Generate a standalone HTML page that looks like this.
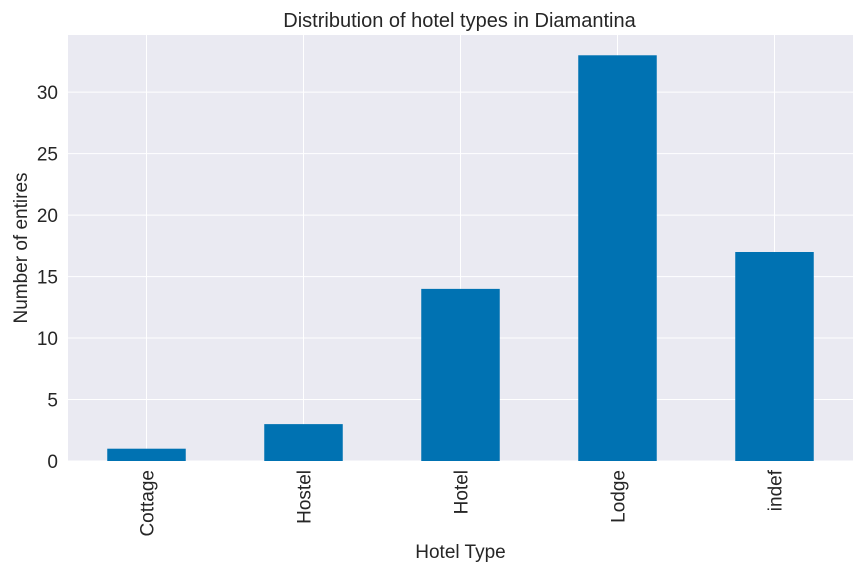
<!DOCTYPE html>
<html><head><meta charset="utf-8"><style>
body{margin:0;background:#fff;}
svg{display:block;font-family:"Liberation Sans","DejaVu Sans",sans-serif;}
</style></head><body>
<svg id="chart" width="864" height="576"></svg>
<script>
const categories=["Cottage","Hostel","Hotel","Lodge","indef"];
const counts=[1,3,14,33,17];
const yTicks=[0,5,10,15,20,25,30];
const L=68,R=853,T=35,B=461,yMax=34.65;
const ns="http://www.w3.org/2000/svg";
const svg=document.getElementById('chart');
function y(v){return B-(v/yMax)*(B-T);}
const step=(R-L)/categories.length;
function xc(i){return L+step*(i+0.5);}
function mk(tag,attrs,parent){const e=document.createElementNS(ns,tag);for(const k in attrs)e.setAttribute(k,attrs[k]);(parent||svg).appendChild(e);return e;}
const bg=mk('rect',{x:L,y:T,width:R-L,height:B-T,fill:'#eaeaf2'});


yTicks.forEach(v=>{
  const g=mk('line',{x1:L,x2:R,y1:y(v),y2:y(v),stroke:'#fff','stroke-width':1});
  
  
  const t=mk('text',{x:L-10,y:y(v)+7,'text-anchor':'end','font-size':19,fill:'#262626'});
  t.textContent=v;
  
  
});
categories.forEach((c,i)=>{
  const g=mk('line',{x1:xc(i),x2:xc(i),y1:T,y2:B,stroke:'#fff','stroke-width':1});
  
  
});
categories.forEach((c,i)=>{
  const w=step*0.5;
  const r=mk('rect',{x:xc(i)-w/2,y:y(counts[i]),width:w,height:B-y(counts[i]),fill:'#0072b2'});
  
  
  const t=mk('text',{x:0,y:0,'text-anchor':'end','font-size':19,fill:'#262626',transform:`translate(${xc(i)+7},${B+9}) rotate(-90)`});
  t.textContent=c;
  
  
});
const title=mk('text',{x:(L+R)/2-1,y:27,'text-anchor':'middle','font-size':20,fill:'#262626'});
title.textContent='Distribution of hotel types in Diamantina';


const xt=mk('text',{x:(L+R)/2,y:558,'text-anchor':'middle','font-size':19,fill:'#262626'});
xt.textContent='Hotel Type';


const yt=mk('text',{x:0,y:0,'text-anchor':'middle','font-size':19,fill:'#262626',transform:`translate(27,${(T+B)/2}) rotate(-90)`});
yt.textContent='Number of entires';


</script>
</body></html>
